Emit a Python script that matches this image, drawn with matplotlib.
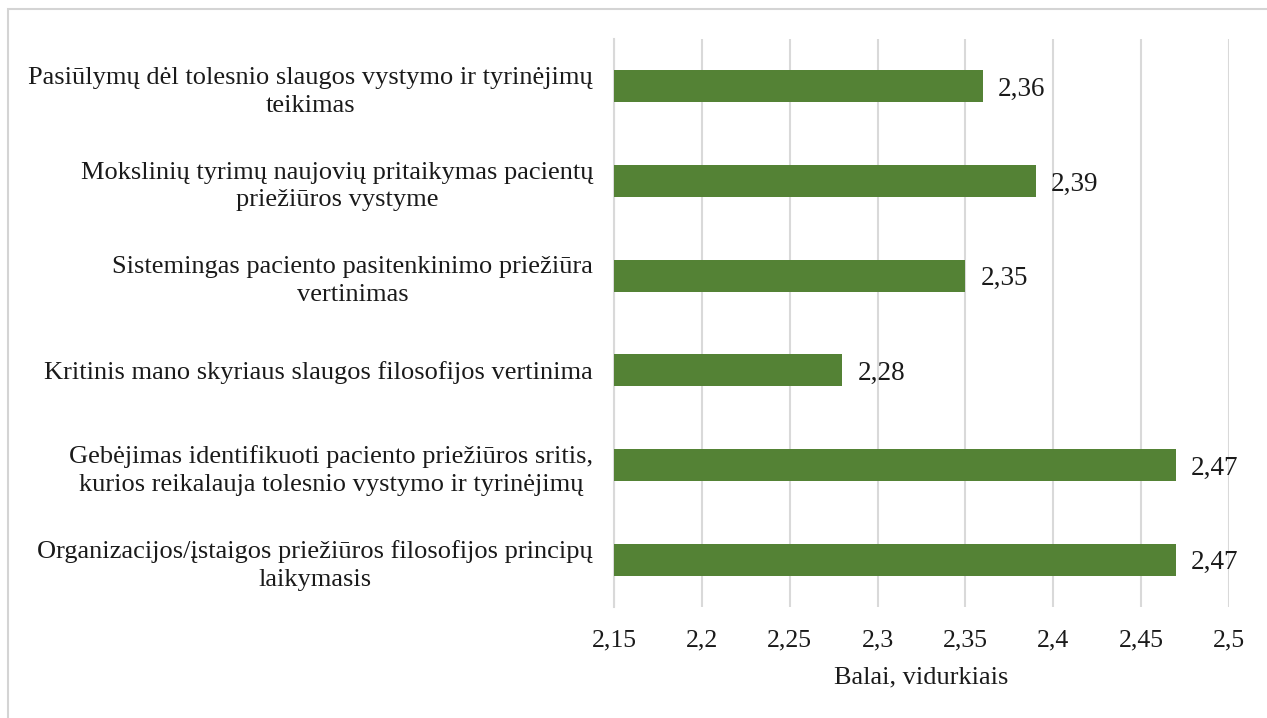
import matplotlib
matplotlib.use("Agg")
import matplotlib.pyplot as plt
from matplotlib.patches import Rectangle

categories = [
    "Organizacijos/įstaigos priežiūros filosofijos principų\nlaikymasis",
    "Gebėjimas identifikuoti paciento priežiūros sritis,\nkurios reikalauja tolesnio vystymo ir tyrinėjimų",
    "Kritinis mano skyriaus slaugos filosofijos vertinima",
    "Sistemingas paciento pasitenkinimo priežiūra\nvertinimas",
    "Mokslinių tyrimų naujovių pritaikymas pacientų\npriežiūros vystyme",
    "Pasiūlymų dėl tolesnio slaugos vystymo ir tyrinėjimų\nteikimas",
]
values = [2.47, 2.47, 2.28, 2.35, 2.39, 2.36]
xticks = [2.15, 2.2, 2.25, 2.3, 2.35, 2.4, 2.45, 2.5]
xlabel = "Balai, vidurkiais"

plt.rcParams['font.family'] = ['Liberation Serif', 'DejaVu Serif']

fig = plt.figure(figsize=(12.67, 7.18), dpi=100)
fig.patches.append(Rectangle((8 / 1267, -0.05), 1.2, 1 - 9 / 718 + 0.05, transform=fig.transFigure,
                             fill=False, edgecolor='#d4d4d4', linewidth=1.5))
ax = fig.add_axes([614 / 1267, 1 - 607 / 718, (1229 - 614) / 1267, (607 - 39) / 718])

y = list(range(len(categories)))
ax.barh(y, [v - xticks[0] for v in values], left=xticks[0], height=0.34,
        color='#548235', zorder=3)
for yi, v in zip(y, values):
    ax.text(v + 0.0085, yi, f"{v:.2f}".replace('.', ','), va='center_baseline', ha='left',
            fontsize=19.5, color='#1a1a1a')

ax.set_xlim(xticks[0], xticks[-1])
ax.set_ylim(-0.5, len(categories) - 0.5)
ax.set_xticks(xticks)
ax.set_xticklabels([f"{t:g}".replace('.', ',') for t in xticks], fontsize=18.5)
ax.set_yticks(y)
ax.set_yticklabels(categories, fontsize=19, multialignment='center', linespacing=1.35)
ax.tick_params(axis='both', length=0, colors='#1a1a1a')
ax.tick_params(axis='y', pad=15)
ax.tick_params(axis='x', pad=16)
ax.xaxis.grid(True, color='#d9d9d9', linewidth=1.5, zorder=0)
ax.set_axisbelow(True)
for s in ['top', 'right', 'bottom']:
    ax.spines[s].set_visible(False)
ax.spines['left'].set_color('#d9d9d9')
ax.spines['left'].set_linewidth(1.5)
ax.set_xlabel(xlabel, fontsize=19, color='#1a1a1a', labelpad=11)

fig.savefig("out.png", dpi=100)
